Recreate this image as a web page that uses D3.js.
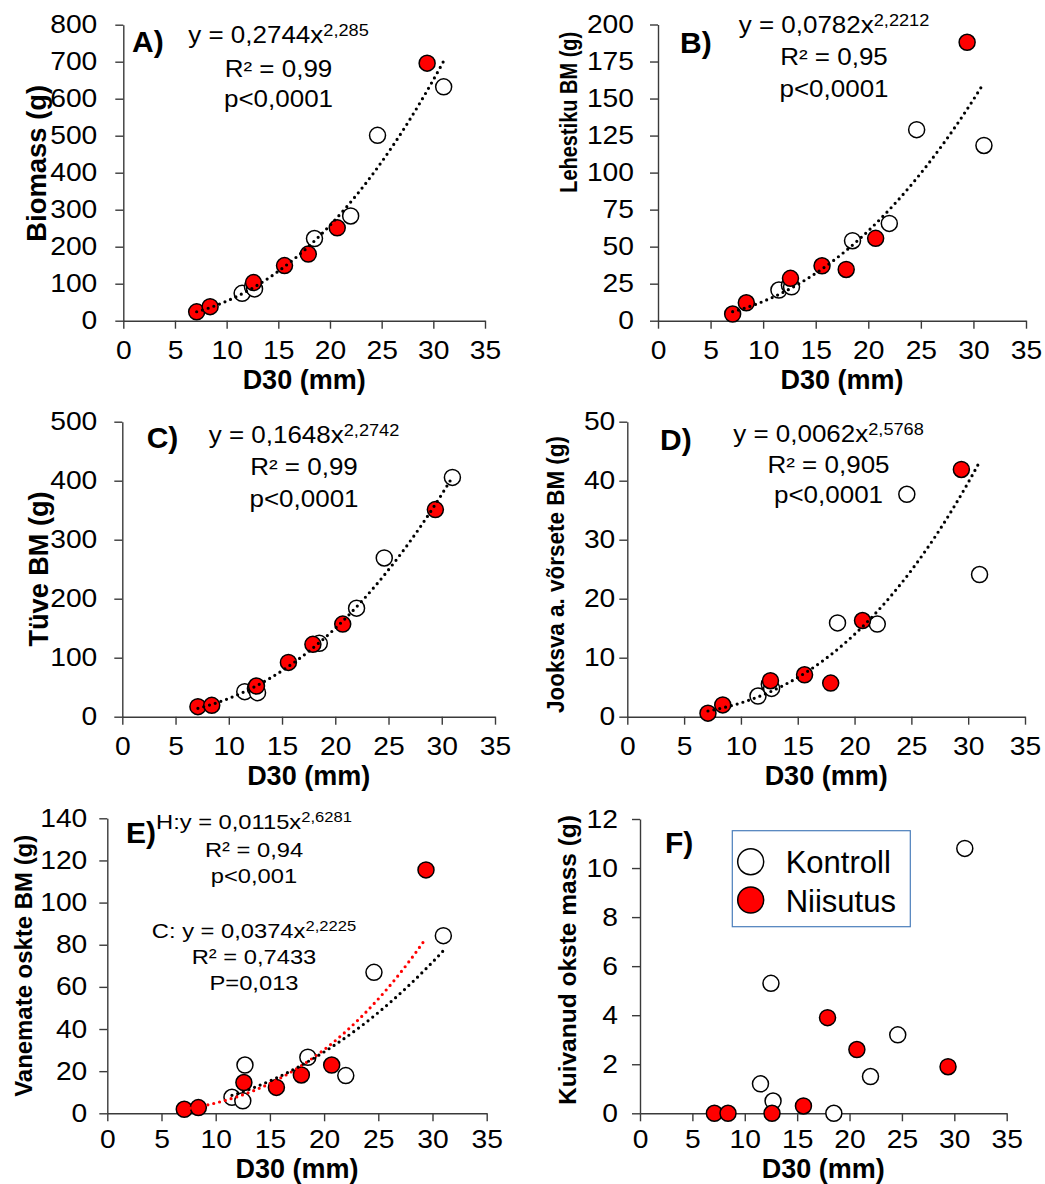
<!DOCTYPE html>
<html>
<head>
<meta charset="utf-8">
<script src="https://cdn.jsdelivr.net/npm/d3@7"></script>
<style>
  body { margin: 0; background: #fff; }
  text { font-family: "Liberation Sans", Arial, sans-serif; fill: #000; }
</style>
</head>
<body>
<svg id="chart" width="1045" height="1184"></svg>
<script>
// D30 (mm) of the trees, same in every panel
var d30Kontroll = [11.5, 12.5, 12.7, 18.5, 22.0, 24.6, 31.0];
var d30Niisutus = [7.1, 8.4, 12.6, 15.6, 17.9, 20.7, 29.4];

// A) Biomass (g)
var biomassK = [74, 92, 86, 222, 283, 501, 632];
var biomassN = [24, 38, 103, 149, 180, 251, 696];
// B) Lehestiku BM (g)
var lehestikK = [20.7, 24, 22.9, 54, 65.7, 129, 118.3];
var lehestikN = [4.5, 12.1, 28.6, 37.1, 34.6, 55.6, 188];
// C) Tüve BM (g)
var tuveK = [42.4, 48, 40.7, 124.3, 184, 269, 405.6];
var tuveN = [17, 19.2, 52, 92, 122.6, 157, 351];
// D) Jooksva a. võrsete BM (g)
var vorseK = [3.5, 5.5, 4.8, 15.9, 15.7, 37.7, 24.1];
var vorseN = [0.6, 2.0, 6.1, 7.1, 5.7, 16.3, 41.9];
// E) Vanemate okste BM (g)
var oksK = [7.6, 5.9, 22.9, 26.6, 17.9, 66.9, 84.3];
var oksN = [1.9, 2.7, 14.6, 12.3, 18.2, 22.9, 115.5];
// F) Kuivanud okste mass (g)
var kuivK = [1.2, 5.3, 0.5, 0, 1.5, 3.2, 10.8];
var kuivN = [0, 0, 0, 0.3, 3.9, 2.6, 1.9];

// power fits y = a*x^b printed on the chart
var fitA = [0.2744, 2.285];
var fitB = [0.0782, 2.2212];
var fitC = [0.1648, 2.2742];
var fitD = [0.0062, 2.5768];
var fitEniis = [0.0115, 2.6281];
var fitEkont = [0.0374, 2.2225];

var xTicks = [0, 5, 10, 15, 20, 25, 30, 35];
var yTicksA = [0, 100, 200, 300, 400, 500, 600, 700, 800];
var yTicksB = [0, 25, 50, 75, 100, 125, 150, 175, 200];
var yTicksC = [0, 100, 200, 300, 400, 500];
var yTicksD = [0, 10, 20, 30, 40, 50];
var yTicksE = [0, 20, 40, 60, 80, 100, 120, 140];
var yTicksF = [0, 2, 4, 6, 8, 10, 12];

var eqA = [["y = 0,2744x", "2,285"], ["R² = 0,99"], ["p<0,0001"]];
var eqB = [["y = 0,0782x", "2,2212"], ["R² = 0,95"], ["p<0,0001"]];
var eqC = [["y = 0,1648x", "2,2742"], ["R² = 0,99"], ["p<0,0001"]];
var eqD = [["y = 0,0062x", "2,5768"], ["R² = 0,905"], ["p<0,0001"]];
var eqE = [["H:y = 0,0115x", "2,6281"], ["R² = 0,94"], ["p<0,001"],
           ["C: y = 0,0374x", "2,2225"], ["R² = 0,7433"], ["P=0,013"]];

var legendNames = ["Kontroll", "Niisutus"];

var panels = [
  { letter: "A)", ylab: "Biomass (g)", k: biomassK, n: biomassN, ticks: yTicksA, fits: [fitA], eq: eqA,
    left: 123.3, right: 485, top: 24.7, bottom: 320.7, yPad: 18, xPad: 13, xlabOff: 68,
    lab: [132, 51.7], ylabPos: [46, 163.3, 27, 157], eqX: 278.5, eqY: [43.3, 76.7, 107.3], eqSize: 23 },
  { letter: "B)", ylab: "Lehestiku BM (g)", k: lehestikK, n: lehestikN, ticks: yTicksB, fits: [fitB], eq: eqB,
    left: 658, right: 1026, top: 24.5, bottom: 320.7, yPad: 16, xPad: 13, xlabOff: 68,
    lab: [680, 53], ylabPos: [577, 112.3, 24, 161], eqX: 834, eqY: [33.3, 64.5, 96.7], eqSize: 23 },
  { letter: "C)", ylab: "Tüve BM (g)", k: tuveK, n: tuveN, ticks: yTicksC, fits: [fitC], eq: eqC,
    left: 122.3, right: 495, top: 421.7, bottom: 716.7, yPad: 17, xPad: 13, xlabOff: 68,
    lab: [146.7, 448], ylabPos: [48, 569, 27, 155], eqX: 304, eqY: [443.3, 474.5, 506.7], eqSize: 23 },
  { letter: "D)", ylab: "Jooksva a. võrsete BM (g)", k: vorseK, n: vorseN, ticks: yTicksD, fits: [fitD], eq: eqD,
    left: 627.3, right: 1025, top: 421.7, bottom: 716.7, yPad: 4, xPad: 13, xlabOff: 68,
    lab: [660, 450], ylabPos: [564, 574.5, 23, 277], eqX: 828.5, eqY: [441.7, 472.5, 503.3], eqSize: 23 },
  { letter: "E)", ylab: "Vanemate oskte BM (g)", k: oksK, n: oksN, ticks: yTicksE, fits: [], eq: eqE,
    left: 107.3, right: 486.7, top: 818.3, bottom: 1113.3, yPad: 12, xPad: 9, xlabOff: 65,
    lab: [126, 843], ylabPos: [32, 965.8, 24, 262], eqX: 254, eqY: [829.3, 856.7, 883.3, 938.3, 964.3, 990], eqSize: 21 },
  { letter: "F)", ylab: "Kuivanud okste mass (g)", k: kuivK, n: kuivN, ticks: yTicksF, fits: [], eq: [],
    left: 640, right: 1006.7, top: 819, bottom: 1113.3, yPad: 14, xPad: 9, xlabOff: 65,
    lab: [665, 853.3], ylabPos: [576, 960, 24, 290], eqX: 0, eqY: [], eqSize: 21 }
];

var svg = d3.select("#chart");
var SX = 1.13;          // the original text is drawn a bit wide
var axisCol = "#3a3a3a";
var R = 8;

function trend(fit, xs) {
  var lo = d3.min(xs), hi = d3.max(xs);
  var pts = d3.range(lo, hi, 0.2).concat([hi]);
  return pts.map(function(v) { return [v, fit[0] * Math.pow(v, fit[1])]; });
}

panels.forEach(function(p) {
  var x = d3.scaleLinear().domain([0, 35]).range([p.left, p.right]);
  var y = d3.scaleLinear().domain([0, d3.max(p.ticks)]).range([p.bottom, p.top]);
  var g = svg.append("g");

  var gx = g.append("g")
    .attr("transform", "translate(0," + p.bottom + ")")
    .call(d3.axisBottom(x).tickValues(xTicks).tickSize(8).tickSizeOuter(0).tickPadding(p.xPad));
  gx.selectAll("text").attr("transform", "scale(" + SX + ",1)");

  var gy = g.append("g")
    .attr("transform", "translate(" + p.left + ",0)")
    .call(d3.axisLeft(y).tickValues(p.ticks).tickSize(8).tickSizeOuter(0).tickPadding(p.yPad));
  gy.selectAll("text").attr("transform", function() {
    var tx = +d3.select(this).attr("x");
    return "translate(" + tx + ",0) scale(" + SX + ",1) translate(" + (-tx) + ",0)";
  });

  [gx, gy].forEach(function(a) {
    a.attr("font-family", null).attr("font-size", 25);
    a.select(".domain").attr("stroke", axisCol).attr("stroke-width", 1.4);
    a.selectAll(".tick line").attr("stroke", axisCol).attr("stroke-width", 1.4);
    a.selectAll("text").attr("fill", "#000");
  });

  // axis titles
  g.append("text")
    .attr("x", (p.left + p.right) / 2).attr("y", p.bottom + p.xlabOff)
    .attr("text-anchor", "middle").attr("font-weight", "bold").attr("font-size", 27)
    .text("D30 (mm)");
  g.append("text")
    .attr("transform", "translate(" + p.ylabPos[0] + "," + p.ylabPos[1] + ") rotate(-90)")
    .attr("text-anchor", "middle").attr("font-weight", "bold").attr("font-size", p.ylabPos[2])
    .attr("textLength", p.ylabPos[3]).attr("lengthAdjust", "spacingAndGlyphs")
    .text(p.ylab);

  // points
  g.selectAll("circle.k").data(d3.zip(d30Kontroll, p.k)).enter().append("circle")
    .attr("class", "k")
    .attr("cx", function(d) { return x(d[0]); })
    .attr("cy", function(d) { return y(d[1]); })
    .attr("r", R).attr("fill", "#fff").attr("stroke", "#000").attr("stroke-width", 1.5);
  g.selectAll("circle.n").data(d3.zip(d30Niisutus, p.n)).enter().append("circle")
    .attr("class", "n")
    .attr("cx", function(d) { return x(d[0]); })
    .attr("cy", function(d) { return y(d[1]); })
    .attr("r", R).attr("fill", "#ff0000").attr("stroke", "#000").attr("stroke-width", 1.5);

  var line = d3.line().x(function(d) { return x(d[0]); }).y(function(d) { return y(d[1]); });
  function dotted(data, col) {
    g.append("path").datum(data).attr("d", line)
      .attr("fill", "none").attr("stroke", col).attr("stroke-width", 3.2)
      .attr("stroke-linecap", "round").attr("stroke-dasharray", "0 6");
  }
  p.fits.forEach(function(f) {
    dotted(trend(f, d30Kontroll.concat(d30Niisutus)), "#000");
  });
  if (p.letter === "E)") {
    dotted(trend(fitEniis, d30Niisutus), "#ff0000");
    dotted(trend(fitEkont, d30Kontroll), "#000");
  }

  // panel letter
  g.append("text").attr("x", p.lab[0]).attr("y", p.lab[1])
    .attr("font-weight", "bold").attr("font-size", 30).text(p.letter);

  // equations
  p.eq.forEach(function(row, i) {
    var t = g.append("text")
      .attr("transform", "translate(" + p.eqX + "," + p.eqY[i] + ") scale(" + SX + ",1)")
      .attr("text-anchor", "middle").attr("font-size", p.eqSize);
    t.append("tspan").text(row[0]);
    if (row[1]) {
      t.append("tspan").attr("dy", -7).attr("font-size", p.eqSize * 0.7).text(row[1]);
    }
  });

  if (p.letter === "F)") {
    var lg = g.append("g");
    lg.append("rect").attr("x", 732.3).attr("y", 830.7).attr("width", 178).attr("height", 96)
      .attr("fill", "#fff").attr("stroke", "#4a7ebb").attr("stroke-width", 1.2);
    legendNames.forEach(function(name, i) {
      lg.append("circle").attr("cx", 750.7).attr("cy", 861.7 + i * 38.3).attr("r", 13)
        .attr("fill", i === 0 ? "#fff" : "#ff0000").attr("stroke", "#000").attr("stroke-width", 1.5);
      lg.append("text").attr("x", 785.7).attr("y", 872.7 + i * 39)
        .attr("font-size", 31).text(name);
    });
  }
});
</script>
</body>
</html>
